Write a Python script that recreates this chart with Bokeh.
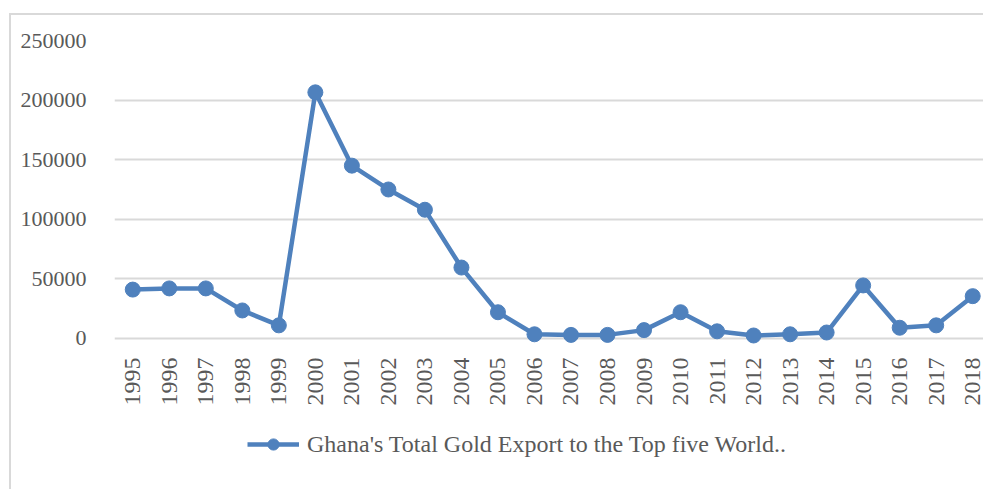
from bokeh.plotting import figure
from bokeh.models import Range1d, FixedTicker, Legend, LegendItem, NumeralTickFormatter
from bokeh.embed import file_html
from bokeh.resources import INLINE
from math import pi

years = list(range(1995, 2019))
exports = [41000, 42000, 42000, 23500, 11000, 206500, 145000, 125000, 108000, 59500,
           22000, 3500, 3000, 3000, 7000, 22000, 6000, 2500, 3500, 5000,
           44500, 9000, 11000, 35500]
y_ticks = [0, 50000, 100000, 150000, 200000, 250000]
series_name = "Ghana's Total Gold Export to the Top five World.."

BLUE = "#4f81bd"
TXT = "#595959"
GRID = "#d9d9d9"
FONT = "Liberation Serif"

# frame extends to the bottom of the page; the x axis is pinned at y = 0
p = figure(width=974, height=476, output_backend="svg", toolbar_location=None,
           x_range=Range1d(1994.5, 2018.35), y_range=Range1d(-128400, 250000),
           min_border_left=103, min_border_right=0, min_border_top=25, min_border_bottom=0,
           styles={"border-left": f"2px solid {GRID}", "border-top": f"2px solid {GRID}",
                   "margin-left": "9px", "margin-top": "13px"})
p.outline_line_color = None
p.background_fill_color = "white"
p.border_fill_color = "white"

p.xgrid.grid_line_color = None
p.ygrid.grid_line_color = GRID
p.ygrid.grid_line_width = 2
p.ygrid.ticker = FixedTicker(ticks=y_ticks)

p.yaxis.ticker = FixedTicker(ticks=y_ticks)
p.yaxis.formatter = NumeralTickFormatter(format="0")
p.yaxis.axis_line_color = None
p.yaxis.major_tick_line_color = None
p.yaxis.minor_tick_line_color = None
p.yaxis.major_label_standoff = 22
p.yaxis.major_label_text_font = FONT
p.yaxis.major_label_text_font_size = "22px"
p.yaxis.major_label_text_color = TXT

p.xaxis.fixed_location = 0
p.xaxis.ticker = FixedTicker(ticks=years)
p.xaxis.axis_line_color = None
p.xaxis.major_tick_line_color = None
p.xaxis.minor_tick_line_color = None
p.xaxis.major_label_orientation = pi / 2
p.xaxis.major_label_standoff = 13
p.xaxis.major_label_text_font = FONT
p.xaxis.major_label_text_font_size = "24px"
p.xaxis.major_label_text_color = TXT

ln = p.line(years, exports, line_color=BLUE, line_width=4.5)
sc = p.scatter(years, exports, size=15, fill_color=BLUE, line_color=BLUE)

legend = Legend(items=[LegendItem(label=series_name, renderers=[ln, sc])],
                location=(133, 33), orientation="horizontal",
                label_text_font=FONT, label_text_font_size="24px",
                label_text_color=TXT, glyph_width=52, glyph_height=28,
                border_line_color=None, background_fill_alpha=0,
                margin=0, padding=4, label_standoff=8)
p.add_layout(legend, "center")

open("out.html", "w").write(file_html(p, INLINE))
